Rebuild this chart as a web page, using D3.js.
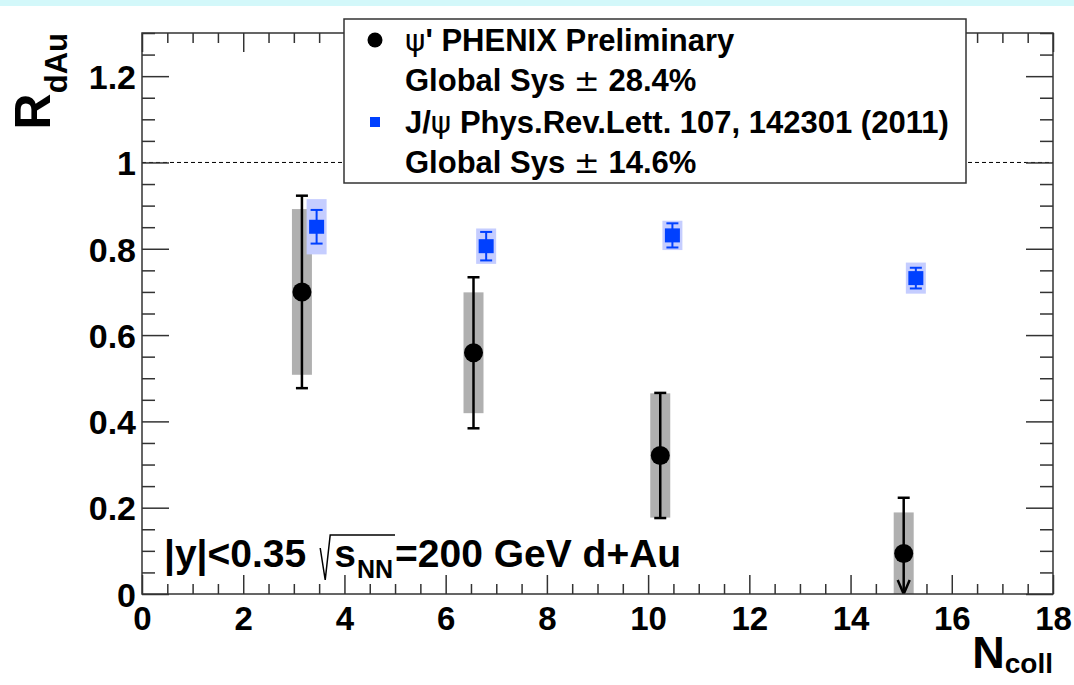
<!DOCTYPE html>
<html>
<head>
<meta charset="utf-8">
<script src="https://cdn.jsdelivr.net/npm/d3@7"></script>
<style>
  html, body { margin: 0; padding: 0; background: #fff; }
  svg { display: block; font-family: "Liberation Sans", Arial, Helvetica, sans-serif; font-weight: bold; }
</style>
</head>
<body>
<svg id="chart" width="1074" height="685"></svg>
<script>
// ---- data ----
const xTickValues = [0, 2, 4, 6, 8, 10, 12, 14, 16, 18];
const xTickLabels = ["0", "2", "4", "6", "8", "10", "12", "14", "16", "18"];
const yTickValues = [0, 0.2, 0.4, 0.6, 0.8, 1.0, 1.2];
const yTickLabels = ["0", "0.2", "0.4", "0.6", "0.8", "1", "1.2"];

// psi' PHENIX Preliminary
const psiNcoll = [3.16, 6.55, 10.24, 15.05];
const psiR     = [0.700, 0.559, 0.321, 0.094];
const psiStat  = [0.223, 0.175, 0.145, 0.129];
const psiSys   = [0.192, 0.140, 0.144, 0.095];
const psiLimit = [false, false, false, true];

// J/psi Phys.Rev.Lett. 107, 142301 (2011)
const jpsiNcoll = [3.45, 6.80, 10.48, 15.29];
const jpsiR     = [0.851, 0.806, 0.831, 0.732];
const jpsiStat  = [0.039, 0.033, 0.028, 0.024];
const jpsiSys   = [0.064, 0.041, 0.034, 0.036];

// legend rows: pieces drawn in bold unless marked "sym" (thin symbol glyphs)
const legendRows = [
  { marker: "circle", parts: [["\u03C8", "sym"], ["' PHENIX Preliminary", ""]] },
  { marker: null,     parts: [["Global Sys ", ""], ["\u00B1", "sym"], [" 28.4%", ""]] },
  { marker: "square", parts: [["J/", ""], ["\u03C8", "sym"], [" Phys.Rev.Lett. 107, 142301 (2011)", ""]] },
  { marker: null,     parts: [["Global Sys ", ""], ["\u00B1", "sym"], [" 14.6%", ""]] }
];

// ---- layout ----
const svg = d3.select("#chart");
const W = 1074, H = 685;
const frame = { left: 142, right: 1053, top: 33, bottom: 594 };
const x = d3.scaleLinear().domain([0, 18]).range([frame.left, frame.right]);
const y = d3.scaleLinear().domain([0, 1.3]).range([frame.bottom, frame.top]);

const frameColor = "#333";
const black = "#000";
const blue = "#0040ff";
const lightBlue = "#c5cdff";
const gray = "#b0b0b0";

// top strip
svg.append("rect").attr("x", 0).attr("y", 0).attr("width", W).attr("height", 6).attr("fill", "#d3f8fa");

// clip for data
svg.append("defs").append("clipPath").attr("id", "plotClip")
  .append("rect").attr("x", frame.left).attr("y", frame.top)
  .attr("width", frame.right - frame.left).attr("height", frame.bottom - frame.top);

// reference line at R = 1
svg.append("line")
  .attr("x1", frame.left).attr("x2", frame.right)
  .attr("y1", y(1)).attr("y2", y(1))
  .attr("stroke", black).attr("stroke-width", 1).attr("stroke-dasharray", "4,3");

// ---- axes ----
const xMinor = d3.range(0, 18.001, 0.5).filter(v => Math.abs(v / 2 - Math.round(v / 2)) > 1e-6);
const yMinor = d3.range(0, 1.3001, 0.05).filter(v => Math.abs(v / 0.2 - Math.round(v / 0.2)) > 1e-6);

function styleAxis(g) {
  g.select(".domain").remove();
  g.selectAll(".tick line").attr("stroke", frameColor).attr("stroke-width", 1.5);
}

// bottom major with labels
svg.append("g").attr("transform", `translate(0,${frame.bottom})`)
  .call(d3.axisBottom(x).tickValues(xTickValues).tickSize(-19).tickPadding(13)
    .tickFormat((d, i) => xTickLabels[i]))
  .call(styleAxis)
  .call(g => g.selectAll(".tick text").attr("font-size", 33).attr("font-family", null)
    .attr("fill", black).attr("dy", "0.71em"));
// bottom minor
svg.append("g").attr("transform", `translate(0,${frame.bottom})`)
  .call(d3.axisBottom(x).tickValues(xMinor).tickSize(-10).tickFormat(""))
  .call(styleAxis);
// top major / minor
svg.append("g").attr("transform", `translate(0,${frame.top})`)
  .call(d3.axisTop(x).tickValues(xTickValues).tickSize(-19).tickFormat(""))
  .call(styleAxis);
svg.append("g").attr("transform", `translate(0,${frame.top})`)
  .call(d3.axisTop(x).tickValues(xMinor).tickSize(-10).tickFormat(""))
  .call(styleAxis);

// left major with labels
svg.append("g").attr("transform", `translate(${frame.left},0)`)
  .call(d3.axisLeft(y).tickValues(yTickValues).tickSize(-27).tickPadding(6)
    .tickFormat((d, i) => yTickLabels[i]))
  .call(styleAxis)
  .call(g => g.selectAll(".tick text").attr("font-size", 34).attr("font-family", null)
    .attr("fill", black).attr("dy", "0.36em"));
svg.append("g").attr("transform", `translate(${frame.left},0)`)
  .call(d3.axisLeft(y).tickValues(yMinor).tickSize(-13).tickFormat(""))
  .call(styleAxis);
// right major / minor
svg.append("g").attr("transform", `translate(${frame.right},0)`)
  .call(d3.axisRight(y).tickValues(yTickValues).tickSize(-27).tickFormat(""))
  .call(styleAxis);
svg.append("g").attr("transform", `translate(${frame.right},0)`)
  .call(d3.axisRight(y).tickValues(yMinor).tickSize(-13).tickFormat(""))
  .call(styleAxis);

// ---- data marks ----
const plot = svg.append("g").attr("clip-path", "url(#plotClip)");

const psi = psiNcoll.map((n, i) => ({ n, r: psiR[i], stat: psiStat[i], sys: psiSys[i], limit: psiLimit[i] }));
const jpsi = jpsiNcoll.map((n, i) => ({ n, r: jpsiR[i], stat: jpsiStat[i], sys: jpsiSys[i] }));

// systematic boxes
const boxW = 20;
plot.selectAll("rect.psiSys").data(psi).join("rect").attr("class", "psiSys")
  .attr("x", d => x(d.n) - boxW / 2).attr("width", boxW)
  .attr("y", d => y(d.r + d.sys)).attr("height", d => y(d.r - d.sys) - y(d.r + d.sys))
  .attr("fill", gray);
plot.selectAll("rect.jpsiSys").data(jpsi).join("rect").attr("class", "jpsiSys")
  .attr("x", d => x(d.n) - boxW / 2).attr("width", boxW)
  .attr("y", d => y(d.r + d.sys)).attr("height", d => y(d.r - d.sys) - y(d.r + d.sys))
  .attr("fill", lightBlue);

// psi' stat error bars
const capW = 12;
const psiG = plot.selectAll("g.psi").data(psi).join("g").attr("class", "psi");
psiG.append("line")
  .attr("x1", d => x(d.n)).attr("x2", d => x(d.n))
  .attr("y1", d => y(d.r + d.stat)).attr("y2", d => d.limit ? y(0) : y(d.r - d.stat))
  .attr("stroke", black).attr("stroke-width", 2.5);
psiG.append("line")
  .attr("x1", d => x(d.n) - capW / 2).attr("x2", d => x(d.n) + capW / 2)
  .attr("y1", d => y(d.r + d.stat)).attr("y2", d => y(d.r + d.stat))
  .attr("stroke", black).attr("stroke-width", 2.5);
psiG.filter(d => !d.limit).append("line")
  .attr("x1", d => x(d.n) - capW / 2).attr("x2", d => x(d.n) + capW / 2)
  .attr("y1", d => y(d.r - d.stat)).attr("y2", d => y(d.r - d.stat))
  .attr("stroke", black).attr("stroke-width", 2.5);
psiG.filter(d => d.limit).append("path")
  .attr("d", d => `M${x(d.n) - 6},${y(0) - 14}L${x(d.n)},${y(0)}L${x(d.n) + 6},${y(0) - 14}`)
  .attr("fill", "none").attr("stroke", black).attr("stroke-width", 2.5);
psiG.append("circle")
  .attr("cx", d => x(d.n)).attr("cy", d => y(d.r)).attr("r", 9.5).attr("fill", black);

// J/psi stat error bars
const jG = plot.selectAll("g.jpsi").data(jpsi).join("g").attr("class", "jpsi");
jG.append("line")
  .attr("x1", d => x(d.n)).attr("x2", d => x(d.n))
  .attr("y1", d => y(d.r + d.stat)).attr("y2", d => y(d.r - d.stat))
  .attr("stroke", blue).attr("stroke-width", 2);
[1, -1].forEach(s => {
  jG.append("line")
    .attr("x1", d => x(d.n) - capW / 2).attr("x2", d => x(d.n) + capW / 2)
    .attr("y1", d => y(d.r + s * d.stat)).attr("y2", d => y(d.r + s * d.stat))
    .attr("stroke", blue).attr("stroke-width", 2);
});
jG.append("rect")
  .attr("x", d => x(d.n) - 7.5).attr("y", d => y(d.r) - 7).attr("width", 15).attr("height", 14)
  .attr("fill", blue);

// frame
svg.append("rect")
  .attr("x", frame.left).attr("y", frame.top)
  .attr("width", frame.right - frame.left).attr("height", frame.bottom - frame.top)
  .attr("fill", "none").attr("stroke", frameColor).attr("stroke-width", 1.5);

// ---- legend ----
const leg = svg.append("g");
leg.append("rect").attr("x", 344).attr("y", 19).attr("width", 622).attr("height", 164)
  .attr("fill", "#fff").attr("stroke", frameColor).attr("stroke-width", 1.5);
const legRowY = [40, 80, 122, 162];
legendRows.forEach((row, i) => {
  const cy = legRowY[i];
  if (row.marker === "circle") {
    leg.append("circle").attr("cx", 375).attr("cy", cy).attr("r", 7.5).attr("fill", black);
  } else if (row.marker === "square") {
    leg.append("rect").attr("x", 370).attr("y", cy - 5).attr("width", 10).attr("height", 10).attr("fill", blue);
  }
  const t = leg.append("text").attr("x", 405).attr("y", cy).attr("dy", "0.36em")
    .attr("font-size", 31).attr("fill", black);
  row.parts.forEach(([s, kind]) => {
    const ts = t.append("tspan").text(s);
    if (kind === "sym") ts.attr("font-weight", "normal").attr("font-family", "DejaVu Sans");
  });
});

// ---- axis titles ----
const yTitle = svg.append("text")
  .attr("transform", `translate(50,33) rotate(-90)`)
  .attr("text-anchor", "end").attr("fill", black);
yTitle.append("tspan").attr("font-size", 50).text("R");
yTitle.append("tspan").attr("font-size", 31).attr("dy", 17).text("dAu");

const xTitle = svg.append("text")
  .attr("x", frame.right).attr("y", 668).attr("text-anchor", "end").attr("fill", black);
xTitle.append("tspan").attr("font-size", 45).text("N");
xTitle.append("tspan").attr("font-size", 28).attr("dy", 5).text("coll");

// ---- kinematics label: |y|<0.35  sqrt(s_NN)=200 GeV d+Au ----
const ann = svg.append("g");
const base = 567;
const annSize = 39;
const t1 = ann.append("text").attr("x", 164).attr("y", base).attr("font-size", annSize).attr("fill", black)
  .text("|y|<0.35");
const radStart = 164 + t1.node().getComputedTextLength() + 14;
const sText = ann.append("text").attr("x", radStart + 14).attr("y", base).attr("font-size", annSize).attr("fill", black)
  .text("s");
const sEnd = radStart + 14 + sText.node().getComputedTextLength();
const nn = ann.append("text").attr("x", sEnd + 1).attr("y", base + 11).attr("font-size", 25).attr("fill", black)
  .text("NN");
const nnEnd = sEnd + 1 + nn.node().getComputedTextLength();
ann.append("path")
  .attr("d", `M${radStart},${base - 19}L${radStart + 5},${base + 13}L${radStart + 10},${base - 32}L${nnEnd + 2},${base - 32}`)
  .attr("fill", "none").attr("stroke", black).attr("stroke-width", 1.5);
ann.append("text").attr("x", nnEnd + 2).attr("y", base).attr("font-size", annSize).attr("fill", black)
  .text("=200 GeV d+Au");
</script>
</body>
</html>
